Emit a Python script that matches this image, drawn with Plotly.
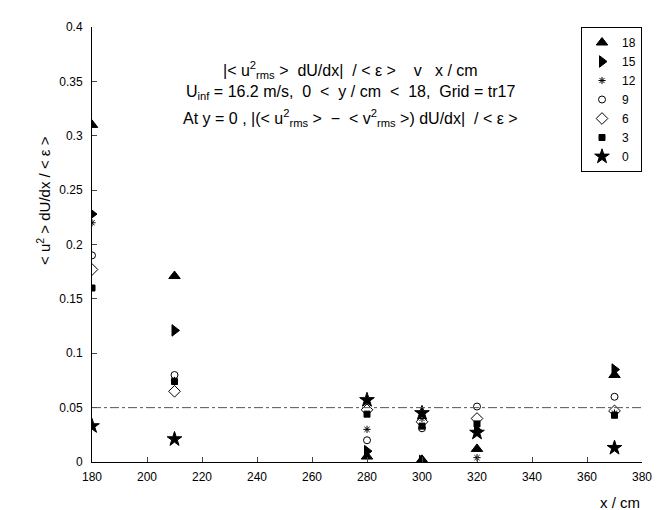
import plotly.graph_objects as go

x_cm = [180, 210, 280, 300, 320, 370]
y18 = [0.310, 0.171, 0.005, 0.002, 0.012, 0.080]
y15 = [0.228, 0.121, 0.010, 0.001, 0.029, 0.085]
y12 = [0.220, 0.075, 0.030, 0.040, 0.004, 0.045]
y9 = [0.190, 0.080, 0.020, 0.031, 0.051, 0.060]
y6 = [0.177, 0.065, 0.048, 0.037, 0.040, 0.047]
y3 = [0.160, 0.074, 0.044, 0.033, 0.035, 0.043]
y0 = [0.033, 0.021, 0.057, 0.045, 0.027, 0.013]

series = [
    ("18", y18, "triangle-up", 10),
    ("15", y15, "triangle-right", 10),
    ("12", y12, "asterisk-open", 6),
    ("9", y9, "circle-open", 7),
    ("6", y6, "diamond-open", 9),
    ("3", y3, "square", 6),
    ("0", y0, "star", 11),
]

fig = go.Figure()
for name, ys, sym, size in series:
    fig.add_trace(go.Scatter(
        x=x_cm, y=ys, name=name, mode="markers",
        marker=dict(symbol=sym, color="black", size=size, line=dict(color="black", width=1)),
    ))

fig.add_hline(y=0.05, line=dict(color="#555", width=1, dash="dashdot"))

title_lines = [
    "|&lt; u<sup>2</sup><sub>rms</sub> &gt;  dU/dx|  / &lt; ε &gt;    v   x / cm",
    "U<sub>inf</sub> = 16.2 m/s,  0  &lt;  y / cm  &lt;  18,  Grid = tr17",
    "At y = 0 , |(&lt; u<sup>2</sup><sub>rms</sub> &gt;  −  &lt; v<sup>2</sup><sub>rms</sub> &gt;) dU/dx|  / &lt; ε &gt;",
]
for i, t in enumerate(title_lines):
    fig.add_annotation(text=t, x=0.47, y=0.93 - i * 0.055, xref="paper", yref="paper",
                       showarrow=False, font=dict(size=16, color="black"))

fig.update_layout(
    width=666, height=510,
    font=dict(family="Liberation Sans, Arial", color="black", size=12),
    plot_bgcolor="white", paper_bgcolor="white",
    margin=dict(l=84, r=32, t=12, b=56),
    legend=dict(x=1.0, y=1.0, xanchor="right", yanchor="top",
                bordercolor="black", borderwidth=1, font=dict(size=12),
                tracegroupgap=0),
    xaxis=dict(range=[180, 380], dtick=20, showgrid=False, zeroline=False,
               showline=True, linecolor="black", ticks="inside", ticklen=5,
               ticklabelstandoff=4),
    yaxis=dict(range=[0, 0.4], dtick=0.05, showgrid=False, zeroline=False,
               showline=True, linecolor="black", ticks="inside", ticklen=5,
               tickformat="~g", ticklabelstandoff=6),
)
fig.add_annotation(text="x / cm", x=1.0, y=-0.07, xref="paper", yref="paper",
                   showarrow=False, xanchor="right", yanchor="top", font=dict(size=15))
fig.add_annotation(text="&lt; u<sup>2</sup> &gt; dU/dx / &lt; ε &gt;", x=-0.11, y=0.6,
                   xref="paper", yref="paper", showarrow=False, textangle=-90,
                   font=dict(size=15))

fig.write_html("out.html")
